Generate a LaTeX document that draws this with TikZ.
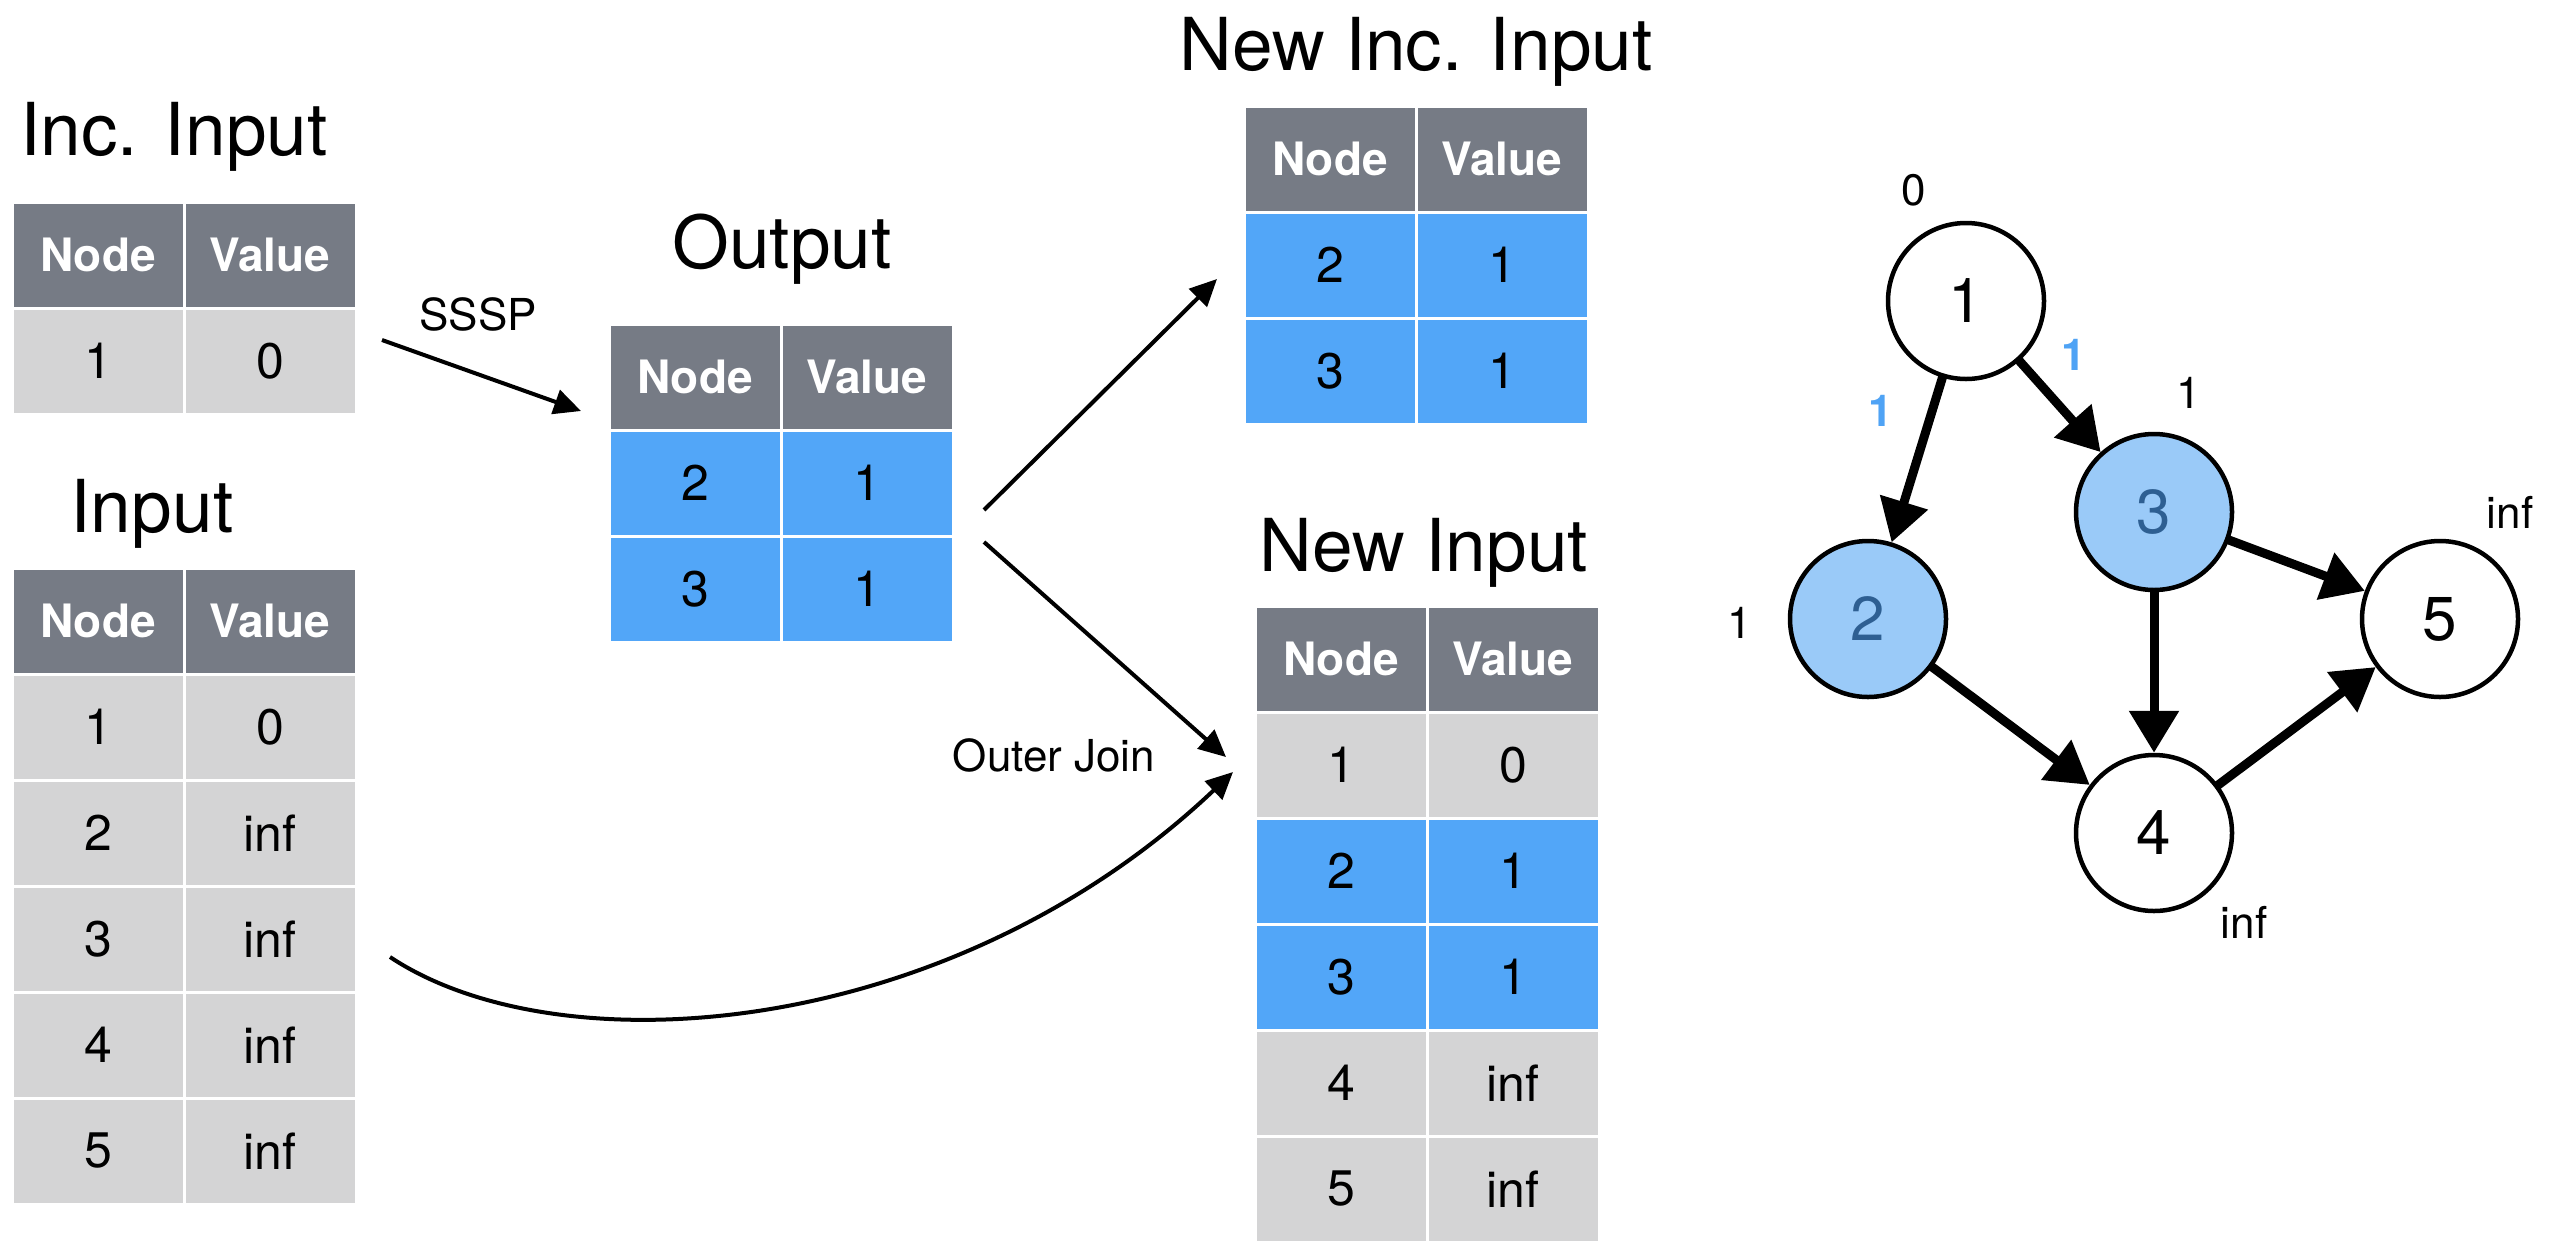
\documentclass[tikz,border=0pt]{standalone}
\usepackage{fontspec}
\setmainfont{TeX Gyre Heros}
\usetikzlibrary{arrows.meta}
\definecolor{hdrgray}{HTML}{767B85}
\definecolor{rowgray}{HTML}{D4D4D5}
\definecolor{rowblue}{HTML}{52A6F8}
\definecolor{nodeblue}{HTML}{9ACAF8}
\definecolor{nodetext}{HTML}{2E5F92}
\definecolor{lblblue}{HTML}{4FA3F5}
\tikzset{
  cellbase/.style={draw=white, line width=3pt, minimum width=172pt, minimum height=106pt,
    anchor=north west, inner sep=0pt, outer sep=0pt},
  hcell/.style={cellbase, fill=hdrgray, text=white, font=\fontsize{46}{50}\selectfont\bfseries},
  dcell/.style={cellbase, font=\fontsize{50}{56}\selectfont},
  ttl/.style={anchor=base, font=\fontsize{73}{80}\selectfont},
  flowlbl/.style={anchor=base, font=\fontsize{44}{48}\selectfont},
  flowarrow/.style={line width=4pt, -{Triangle[length=27pt,width=25pt]}},
  gnode/.style={circle, draw=black, line width=4.5pt, minimum size=156pt, inner sep=0pt,
    fill=white, font=\fontsize{62}{70}\selectfont},
  vnode/.style={gnode, fill=nodeblue, text=nodetext},
  gedge/.style={line width=9pt, -{Triangle[length=42pt,width=48pt]}, shorten <=-4pt},
  glbl/.style={font=\fontsize{44}{50}\selectfont},
  wlbl/.style={font=\fontsize{44}{50}\selectfont\bfseries, text=lblblue}
}
\newcommand\hdrrow[3]{%
  \node[hcell] (#1n) at (#2,#3) {Node};
  \node[hcell] (#1v) at (#2+172,#3) {Value};}
\newcommand\datarow[6]{%
  \node[dcell, fill=#4] (#1a) at (#2,#3) {#5};
  \node[dcell, fill=#4] (#1b) at (#2+172,#3) {#6};}
\begin{document}
\begin{tikzpicture}[x=1pt, y=-1pt]
\useasboundingbox[fill=white] (0,0) rectangle (2550,1240);

% Titles
\node[ttl] (tinc) at (174,155) {Inc. Input};
\node[ttl] (tinp) at (152,532) {Input};
\node[ttl] (tout) at (782,268) {Output};
\node[ttl] (tninc) at (1416,70) {New Inc. Input};
\node[ttl] (tnin) at (1424,571) {New Input};

% Inc. Input table
\hdrrow{inch}{12}{202}
\datarow{incr1}{12}{308}{rowgray}{1}{0}

% Input table
\hdrrow{inph}{12}{568}
\datarow{inpr1}{12}{674}{rowgray}{1}{0}
\datarow{inpr2}{12}{780}{rowgray}{2}{inf}
\datarow{inpr3}{12}{886}{rowgray}{3}{inf}
\datarow{inpr4}{12}{992}{rowgray}{4}{inf}
\datarow{inpr5}{12}{1098}{rowgray}{5}{inf}

% Output table
\hdrrow{outh}{609}{324}
\datarow{outr1}{609}{430}{rowblue}{2}{1}
\datarow{outr2}{609}{536}{rowblue}{3}{1}

% New Inc. Input table
\hdrrow{ninch}{1244}{106}
\datarow{nincr1}{1244}{212}{rowblue}{2}{1}
\datarow{nincr2}{1244}{318}{rowblue}{3}{1}

% New Input table
\hdrrow{ninh}{1255}{606}
\datarow{ninr1}{1255}{712}{rowgray}{1}{0}
\datarow{ninr2}{1255}{818}{rowblue}{2}{1}
\datarow{ninr3}{1255}{924}{rowblue}{3}{1}
\datarow{ninr4}{1255}{1030}{rowgray}{4}{inf}
\datarow{ninr5}{1255}{1136}{rowgray}{5}{inf}

% Flow arrows
\coordinate (sA) at (382,340);
\coordinate (sB) at (581,411);
\coordinate (oA) at (984,510);
\coordinate (oB) at (1217,279);
\coordinate (oC) at (984,542);
\coordinate (oD) at (1226,757);
\coordinate (jA) at (390,957);
\coordinate (jB) at (1233,772);
\draw[flowarrow] (sA) -- (sB);
\draw[flowarrow] (oA) -- (oB);
\draw[flowarrow] (oC) -- (oD);
\draw[flowarrow] (jA) .. controls (560,1070) and (950,1040) .. (jB);
\node[flowlbl] (lsssp) at (478,330) {SSSP};
\node[flowlbl] (ljoin) at (1054,771) {Outer Join};

% Graph
\node[gnode] (g1) at (1966,301) {1};
\node[vnode] (g2) at (1868,619) {2};
\node[vnode] (g3) at (2154,512) {3};
\node[gnode] (g4) at (2154,833) {4};
\node[gnode] (g5) at (2440,619) {5};
\draw[gedge] (g1) -- (g2);
\draw[gedge] (g1) -- (g3);
\draw[gedge] (g3) -- (g5);
\draw[gedge] (g3) -- (g4);
\draw[gedge] (g2) -- (g4);
\draw[gedge] (g4) -- (g5);
\node[glbl] (d1) at (1914,190) {0};
\node[glbl] (d3) at (2189,393) {1};
\node[glbl] (d5) at (2510,512) {inf};
\node[glbl] (d2) at (1740,623) {1};
\node[glbl] (d4) at (2244,922) {inf};
\node[wlbl] (w12) at (1881,411) {1};
\node[wlbl] (w13) at (2074,355) {1};
\end{tikzpicture}
\end{document}
